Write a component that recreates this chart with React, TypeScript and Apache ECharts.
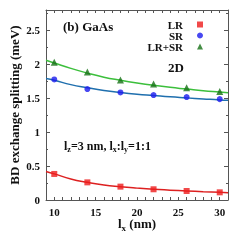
import React, { useEffect, useRef } from "react";
import * as echarts from "echarts";

const xPoints = [10, 14, 18, 22, 26, 30];
const lrPoints = [0.384, 0.26, 0.197, 0.158, 0.133, 0.113];
const srPoints = [1.777, 1.635, 1.585, 1.546, 1.517, 1.487];
const sumPoints = [2.03, 1.886, 1.77, 1.71, 1.654, 1.6];

const xCurve = [9, 10, 12, 14, 16, 18, 20, 22, 24, 26, 28, 30, 31];
const lrCurve = [0.42, 0.385, 0.31, 0.26, 0.22, 0.195, 0.175, 0.158, 0.145, 0.133, 0.122, 0.113, 0.108];
const srCurve = [1.79, 1.765, 1.7, 1.655, 1.615, 1.585, 1.56, 1.54, 1.52, 1.505, 1.49, 1.475, 1.47];
const sumCurve = [2.06, 2.02, 1.94, 1.87, 1.81, 1.765, 1.725, 1.69, 1.66, 1.635, 1.61, 1.59, 1.58];

const FONT = "Liberation Serif";

const zip = (xs: number[], ys: number[]) => xs.map((x, i) => [x, ys[i]]);

export default function App() {
  const ref = useRef<HTMLDivElement>(null);
  useEffect(() => {
    const chart = echarts.init(ref.current!, null, { renderer: "svg" });
    const yTick = {
      axisLine: { show: true, onZero: false, lineStyle: { color: "#555", width: 1 } },
      axisTick: { show: true, inside: true, length: 4, lineStyle: { color: "#555" } },
      minorTick: { show: true, splitNumber: 2, length: 2, lineStyle: { color: "#555" } },
      splitLine: { show: false },
    };
    const xTick = {
      axisLine: { show: true, onZero: false, lineStyle: { color: "#555", width: 1 } },
      axisTick: { show: true, inside: true, length: 3, interval: 0, lineStyle: { color: "#555" } },
      splitLine: { show: false },
    };
    chart.setOption({
      animation: false,
      grid: { left: 45, right: 17, top: 10, bottom: 45 },
      legend: {
        orient: "vertical",
        right: 42,
        top: 19,
        padding: 0,
        align: "right",
        itemWidth: 6,
        itemHeight: 6,
        itemGap: 0,
        textStyle: { fontFamily: FONT, fontWeight: "bold", fontSize: 11, lineHeight: 11, color: "#111", padding: [0, 9, 0, 0] },
        data: ["LR", "SR", "LR+SR"],
      },
      xAxis: [
        {
          type: "value",
          min: 9,
          max: 31,
          interval: 1,
          ...xTick,
          axisLabel: {
            interval: 0,
            fontFamily: FONT,
            fontWeight: "bold",
            fontSize: 11,
            color: "#111",
            margin: 6,
            formatter: (v: number) => (v % 5 === 0 ? String(v) : ""),
          },
          name: "{a|l}{s|x}{a| (nm)}",
          nameLocation: "middle",
          nameGap: 15,
          nameMoveOverlap: false,
          nameTextStyle: {
            rich: {
              a: { fontFamily: FONT, fontWeight: "bold", fontSize: 13, color: "#111" },
              s: { fontFamily: FONT, fontWeight: "bold", fontSize: 9, color: "#111", padding: [8, 0, 0, 0] },
            },
          },
        },
        {
          type: "value",
          position: "top",
          min: 9,
          max: 31,
          interval: 1,
          ...xTick,
          axisLabel: { show: false },
        },
      ],
      yAxis: [
        {
          type: "value",
          min: 0,
          max: 2.8,
          interval: 0.5,
          ...yTick,
          axisLabel: {
            fontFamily: FONT,
            fontWeight: "bold",
            fontSize: 11,
            color: "#111",
            margin: 6,
            formatter: (v: number) => (v > 2.6 ? "" : String(v)),
          },
          name: "BD exchange splitting (meV)",
          nameLocation: "middle",
          nameGap: 25,
          nameMoveOverlap: false,
          nameTextStyle: { fontFamily: FONT, fontWeight: "bold", fontSize: 13, color: "#111" },
        },
        {
          type: "value",
          position: "right",
          min: 0,
          max: 2.8,
          interval: 0.5,
          ...yTick,
          axisLabel: { show: false },
        },
      ],
      series: [
        { type: "line", name: "LRfit", data: zip(xCurve, lrCurve), smooth: true, symbol: "none", lineStyle: { color: "#dd2020", width: 1.5 }, z: 2 },
        { type: "line", name: "SRfit", data: zip(xCurve, srCurve), smooth: true, symbol: "none", lineStyle: { color: "#1f6fae", width: 1.5 }, z: 2 },
        { type: "line", name: "SUMfit", data: zip(xCurve, sumCurve), smooth: true, symbol: "none", lineStyle: { color: "#3cbf3c", width: 1.5 }, z: 2 },
        { type: "scatter", name: "LR", data: zip(xPoints, lrPoints), symbol: "rect", symbolSize: 6, itemStyle: { color: "#ee1c1c" }, z: 3 },
        { type: "scatter", name: "SR", data: zip(xPoints, srPoints), symbol: "circle", symbolSize: 6, itemStyle: { color: "#1a1aee" }, z: 3 },
        { type: "scatter", name: "LR+SR", data: zip(xPoints, sumPoints), symbol: "triangle", symbolSize: 7, itemStyle: { color: "#157015" }, z: 3 },
      ],
      graphic: [
        {
          type: "text",
          left: 63,
          top: 20,
          style: { text: "(b) GaAs", fontFamily: FONT, fontWeight: "bold", fontSize: 13, fill: "#111" },
        },
        {
          type: "text",
          left: 168,
          top: 61,
          style: { text: "2D", fontFamily: FONT, fontWeight: "bold", fontSize: 13, fill: "#111" },
        },
        {
          type: "text",
          left: 64,
          top: 140,
          style: {
            text: "{a|l}{s|z}{a|=3 nm, l}{s|x}{a|:l}{s|y}{a|=1:1}",
            rich: {
              a: { fontFamily: FONT, fontWeight: "bold", fontSize: 12, fill: "#111" },
              s: { fontFamily: FONT, fontWeight: "bold", fontSize: 8, fill: "#111", padding: [7, 0, 0, 0] },
            },
          },
        },
      ],
    });
    return () => chart.dispose();
  }, []);
  return <div ref={ref} style={{ width: 245, height: 245, position: "fixed", left: 0, top: 0 }} />;
}
